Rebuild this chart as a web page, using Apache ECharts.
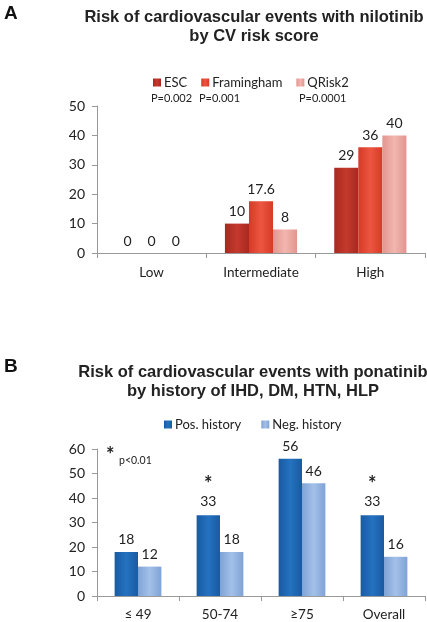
<!DOCTYPE html>
<html><head><meta charset="utf-8">
<script src="https://cdn.jsdelivr.net/npm/echarts@6/dist/echarts.min.js"></script>
<style>html,body{margin:0;padding:0;background:#fff}#c{width:427px;height:622px}</style>
</head><body><div id="c"></div>
<script>
// Panel A
const catsA = ['Low', 'Intermediate', 'High'];
const escA = [0, 10, 29];
const framA = [0, 17.6, 36];
const qriskA = [0, 8, 40];
const namesA = ['ESC', 'Framingham', 'QRisk2'];
const pvalsA = ['P=0.002', 'P=0.001', 'P=0.0001'];
// Panel B
const catsB = ['\u2264 49', '50-74', '\u226575', 'Overall'];
const posB = [18, 33, 56, 33];
const negB = [12, 18, 46, 16];
const starB = [false, true, false, true];
const namesB = ['Pos. history', 'Neg. history'];

const F = 'Lato, "Open Sans", sans-serif';
const TF = '"Liberation Sans", Arial, sans-serif';
function grad(c1, c2) {
  return new echarts.graphic.LinearGradient(0, 0, 1, 0, [{offset: 0, color: c1}, {offset: 0.5, color: c2}, {offset: 1, color: c1}]);
}
const lab = {show: true, position: 'top', distance: 5, color: '#222', fontFamily: F, fontSize: 14};
const chart = echarts.init(document.getElementById('c'));
const axisCommon = {
  axisLine: {show: true, lineStyle: {color: '#999'}},
  axisTick: {show: true, length: 5, lineStyle: {color: '#999'}},
  splitLine: {show: false},
  axisLabel: {color: '#222', fontFamily: F, fontSize: 13.5}
};
chart.setOption({
  animation: false,
  title: [
    {text: 'Risk of cardiovascular events with nilotinib\nby CV risk score', left: 249, top: 3, textAlign: 'center',
     textStyle: {fontFamily: TF, fontWeight: 'bold', fontSize: 16.5, lineHeight: 19, color: '#222'}},
    {text: 'Risk of cardiovascular events with ponatinib\nby history of IHD, DM, HTN, HLP', left: 248, top: 358, textAlign: 'center',
     textStyle: {fontFamily: TF, fontWeight: 'bold', fontSize: 16.5, lineHeight: 19, color: '#222'}}
  ],
  legend: [
    {data: namesA, left: 148, top: 71, itemWidth: 8, itemHeight: 8, itemGap: 14, icon: 'rect',
     textStyle: {fontFamily: F, fontSize: 13, color: '#222', padding: [0, 0, 0, -2]}},
    {data: namesB, left: 159, top: 413, itemWidth: 8, itemHeight: 8, itemGap: 20, icon: 'rect',
     textStyle: {fontFamily: F, fontSize: 13, color: '#222', padding: [0, 0, 0, -2]}}
  ],
  graphic: [
    {type: 'text', left: 4, top: 4, style: {text: 'A', font: 'bold 19px ' + TF, fill: '#111'}},
    {type: 'text', left: 4, top: 357, style: {text: 'B', font: 'bold 19px ' + TF, fill: '#111'}},
    {type: 'text', left: 151, top: 93, style: {text: pvalsA[0], font: '11px ' + F, fill: '#222'}},
    {type: 'text', left: 199, top: 93, style: {text: pvalsA[1], font: '11px ' + F, fill: '#222'}},
    {type: 'text', left: 299, top: 93, style: {text: pvalsA[2], font: '11px ' + F, fill: '#222'}},
    {type: 'text', left: 106, top: 446, style: {text: '*', font: 'bold 20px ' + F, fill: '#222'}},
    {type: 'text', left: 119, top: 455, style: {text: 'p<0.01', font: '10.5px ' + F, fill: '#222'}}
  ],
  grid: [
    {left: 97, right: 2, top: 106, height: 147},
    {left: 97, right: 2, top: 449, height: 147}
  ],
  xAxis: [
    Object.assign({}, axisCommon, {type: 'category', data: catsA, gridIndex: 0, axisLabel: Object.assign({}, axisCommon.axisLabel, {margin: 13})}),
    Object.assign({}, axisCommon, {type: 'category', data: catsB, gridIndex: 1, axisLabel: Object.assign({}, axisCommon.axisLabel, {margin: 12})})
  ],
  yAxis: [
    Object.assign({}, axisCommon, {type: 'value', gridIndex: 0, min: 0, max: 50, interval: 10, axisLabel: Object.assign({}, axisCommon.axisLabel, {margin: 12, fontSize: 14})}),
    Object.assign({}, axisCommon, {type: 'value', gridIndex: 1, min: 0, max: 60, interval: 10, axisLabel: Object.assign({}, axisCommon.axisLabel, {margin: 12, fontSize: 14})})
  ],
  series: [
    {name: namesA[0], type: 'bar', xAxisIndex: 0, yAxisIndex: 0, data: escA, barGap: '0%', barCategoryGap: '34%',
     itemStyle: {color: grad('#a8281f', '#c43a2d')}, label: lab},
    {name: namesA[1], type: 'bar', xAxisIndex: 0, yAxisIndex: 0, data: framA,
     itemStyle: {color: grad('#d63a28', '#ec5640')}, label: lab},
    {name: namesA[2], type: 'bar', xAxisIndex: 0, yAxisIndex: 0, data: qriskA,
     itemStyle: {color: grad('#e2958f', '#f2b6b0')}, label: lab},
    {name: namesB[0], type: 'bar', xAxisIndex: 1, yAxisIndex: 1, barGap: '0%', barCategoryGap: '43%',
     data: posB.map((v, i) => ({value: v, label: starB[i] ? {formatter: '{s|*}\n{c}', lineHeight: 17, rich: {s: {fontSize: 20, fontWeight: 'bold', lineHeight: 17, color: '#222', fontFamily: F}}} : {}})),
     itemStyle: {color: grad('#1a5aa2', '#2472c0')}, label: lab},
    {name: namesB[1], type: 'bar', xAxisIndex: 1, yAxisIndex: 1, data: negB,
     itemStyle: {color: grad('#7fa3d6', '#a3c0e8')}, label: lab}
  ]
});
</script></body></html>
